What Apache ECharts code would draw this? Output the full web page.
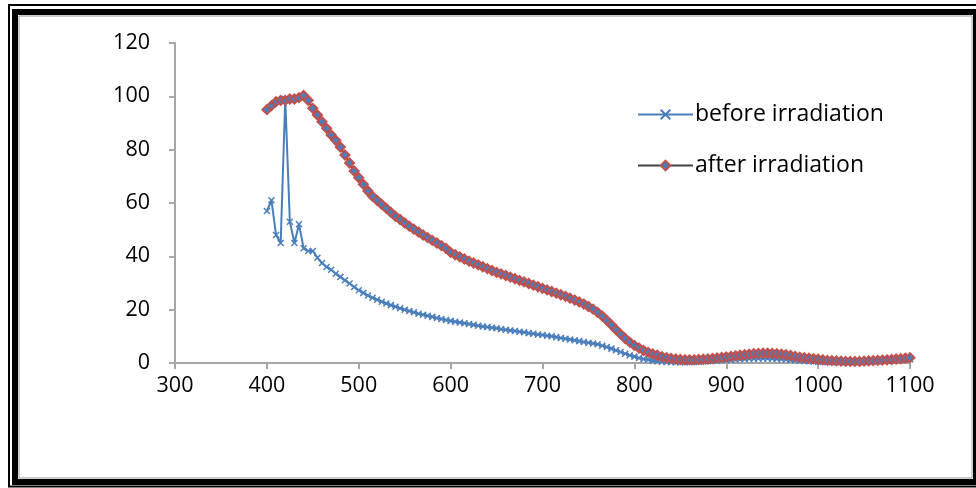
<!DOCTYPE html>
<html>
<head>
<meta charset="utf-8">
<script src="https://cdn.jsdelivr.net/npm/echarts@6/dist/echarts.min.js"></script>
<style>
html,body{margin:0;padding:0;background:#fff;}
#chart{width:976px;height:488px;}
</style>
</head>
<body>
<div id="chart"></div>
<script>
// wavelengths (nm), every 5 nm from 400 to 1100
const wavelengths = [400,405,410,415,420,425,430,435,440,445,450,455,460,465,470,475,480,485,490,495,
500,505,510,515,520,525,530,535,540,545,550,555,560,565,570,575,580,585,590,595,
600,605,610,615,620,625,630,635,640,645,650,655,660,665,670,675,680,685,690,695,
700,705,710,715,720,725,730,735,740,745,750,755,760,765,770,775,780,785,790,795,
800,805,810,815,820,825,830,835,840,845,850,855,860,865,870,875,880,885,890,895,
900,905,910,915,920,925,930,935,940,945,950,955,960,965,970,975,980,985,990,995,
1000,1005,1010,1015,1020,1025,1030,1035,1040,1045,1050,1055,1060,1065,1070,1075,1080,1085,1090,1095,1100];

const beforeIrradiation = [57,61,48,45,99,53,45,52,43,42,42,39.5,37.5,36,35,33.5,32.3,31,29.8,28.5,
27.3,26.3,25.3,24.5,23.7,23,22.3,21.7,21.1,20.5,20,19.5,19,18.5,18.1,17.7,17.3,16.9,16.5,16.1,
15.8,15.5,15.2,14.9,14.6,14.3,14,13.7,13.5,13.2,13,12.7,12.5,12.2,12,11.7,11.5,11.2,11,10.7,
10.5,10.2,10,9.7,9.4,9.1,8.8,8.5,8.2,7.9,7.6,7.3,7,6.5,6,5.4,4.8,4.1,3.5,2.9,
2.4,1.9,1.5,1.2,0.9,0.7,0.5,0.4,0.3,0.3,0.3,0.3,0.3,0.4,0.5,0.6,0.7,0.8,0.9,1.0,
1.1,1.2,1.3,1.4,1.5,1.6,1.6,1.7,1.7,1.7,1.6,1.5,1.4,1.3,1.1,1.0,0.9,0.8,0.7,0.6,
0.5,0.5,0.4,0.4,0.4,0.4,0.4,0.4,0.4,0.4,0.5,0.5,0.6,0.7,0.8,0.9,1.0,1.1,1.2,1.3,1.4];

const afterIrradiation = [95,96.5,98,98.5,98.5,99,99,99.5,100.3,98.5,95.5,93,90.5,88,85.5,83.5,81,78,75,72,
69.5,67,64.5,62.5,61,59.5,58,56.5,55,53.8,52.5,51.3,50.2,49.1,48,47,46,45,44,43,
41.5,40.6,39.8,39,38.2,37.5,36.8,36.1,35.4,34.7,34,33.4,32.8,32.2,31.6,31,30.4,29.8,29.2,28.6,
28,27.4,26.8,26.2,25.6,25,24.3,23.6,22.9,22.1,21.2,20.2,19,17.6,16,14.3,12.5,10.8,9.2,7.8,
6.6,5.6,4.7,4,3.4,2.9,2.4,2,1.7,1.5,1.3,1.2,1.2,1.2,1.3,1.4,1.5,1.7,1.9,2.1,
2.3,2.5,2.7,2.9,3.1,3.3,3.5,3.6,3.7,3.7,3.6,3.5,3.3,3.1,2.8,2.5,2.2,2,1.8,1.6,
1.4,1.2,1.0,0.9,0.8,0.7,0.6,0.6,0.6,0.6,0.7,0.8,0.9,1.0,1.1,1.2,1.3,1.5,1.6,1.8,2.0];

const seriesNames = ['before irradiation','after irradiation'];
const xTicks = {min:300, max:1100, interval:100};
const yTicks = {min:0, max:120, interval:20};

const FONT = 'Open Sans';
const chart = echarts.init(document.getElementById('chart'), null, {renderer:'canvas'});

const pair = (ys) => wavelengths.map((w,i)=>[w, ys[i]]);
const xMark = 'path://M0,0L10,10M10,0L0,10';

chart.setOption({
  animation:false,
  backgroundColor:'#ffffff',
  grid:{left:175, right:66, top:43, bottom:125, containLabel:false},
  xAxis:{
    type:'value', min:xTicks.min, max:xTicks.max, interval:xTicks.interval,
    axisLine:{show:true, onZero:false, lineStyle:{color:'#a6a6a6', width:2}},
    axisTick:{show:true, length:6, lineStyle:{color:'#a6a6a6', width:2}},
    splitLine:{show:false},
    axisLabel:{color:'#000', fontFamily:FONT, fontSize:21.5, margin:12, formatter:(v)=>String(v)}
  },
  yAxis:{
    type:'value', min:yTicks.min, max:yTicks.max, interval:yTicks.interval,
    axisLine:{show:true, lineStyle:{color:'#a6a6a6', width:2}},
    axisTick:{show:true, length:6, lineStyle:{color:'#a6a6a6', width:2}},
    splitLine:{show:false},
    axisLabel:{color:'#000', fontFamily:FONT, fontSize:21.5, margin:25, formatter:(v)=>String(v)}
  },
  legend:{
    orient:'vertical', left:632, top:98, itemGap:28,
    itemWidth:55, itemHeight:12,
    textStyle:{color:'#000', fontFamily:FONT, fontSize:23, padding:[0,0,0,-3]},
    data:seriesNames
  },
  series:[
    {
      name:seriesNames[0], type:'line', data:pair(beforeIrradiation),
      symbol:xMark, symbolSize:6, showAllSymbol:true,
      lineStyle:{color:'#4a7ebb', width:2},
      itemStyle:{color:'#4a7ebb', borderColor:'#4a7ebb', borderWidth:1.5},
      z:2
    },
    {
      name:seriesNames[1], type:'line', data:pair(afterIrradiation),
      symbol:'diamond', symbolSize:9, showAllSymbol:true,
      lineStyle:{color:'#404040', width:2},
      itemStyle:{color:'#4a7ebb', borderColor:'#c0504d', borderWidth:2},
      z:3
    }
  ],
  graphic:[
    {type:'rect', shape:{x:9, y:5, width:1000, height:481.5}, style:{fill:null, stroke:'#000', lineWidth:2}, silent:true},
    {type:'rect', shape:{x:15, y:12, width:961, height:470}, style:{fill:null, stroke:'#000', lineWidth:6}, silent:true},
    {type:'rect', shape:{x:19, y:16, width:953, height:462}, style:{fill:null, stroke:'#9a9a9a', lineWidth:1}, silent:true}
  ]
});
</script>
</body>
</html>
